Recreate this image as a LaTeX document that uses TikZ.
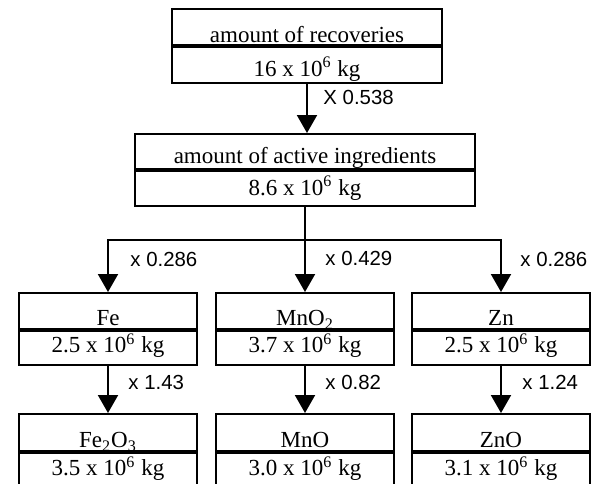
\documentclass[tikz,border=0pt]{standalone}
\usepackage{fontspec}
\setmainfont{Liberation Serif}
\newfontfamily\factorfont{Liberation Sans}
\usetikzlibrary{arrows.meta,positioning}

\begin{document}
\begin{tikzpicture}[x=0.5pt, y=-0.5pt,
    box/.style={draw, line width=0.9pt, inner sep=0pt, font=\fontsize{11.5}{13}\selectfont},
    elemhead/.style={box, minimum width=89pt, text height=16.5pt, text depth=1.5pt},
    elemval/.style={box, minimum width=89pt, text height=11pt, text depth=6pt},
    flow/.style={line width=1pt, -{Triangle[width=10pt,length=9pt]}},
    factor/.style={anchor=west, inner sep=0pt, font=\factorfont\fontsize{10.2}{12}\selectfont}]

    \clip (0,0) rectangle (599,483);

    % total
    \node[box, anchor=north, minimum width=135pt, text height=17pt, text depth=1pt] (rec) at (307,8) {amount of recoveries};
    \node[box, below=0pt of rec, minimum width=135pt, text height=15pt, text depth=3pt] (recv) {16 x 10\textsuperscript{6} kg};

    \node[box, anchor=north, minimum width=170pt, text height=15pt, text depth=2.5pt] (act) at (305,133) {amount of active ingredients};
    \node[box, below=0pt of act, minimum width=170pt, text height=12.5pt, text depth=5pt] (actv) {8.6 x 10\textsuperscript{6} kg};

    % metals
    \node[elemhead, anchor=north] (fe) at (108,292) {Fe};
    \node[elemval, below=0pt of fe] (fev) {2.5 x 10\textsuperscript{6} kg};
    \node[elemhead, anchor=north] (mn) at (305,292) {MnO\textsubscript{2}};
    \node[elemval, below=0pt of mn] (mnv) {3.7 x 10\textsuperscript{6} kg};
    \node[elemhead, anchor=north] (zn) at (501,292) {Zn};
    \node[elemval, below=0pt of zn] (znv) {2.5 x 10\textsuperscript{6} kg};

    % oxides
    \node[elemhead, anchor=north, text height=17pt] (feo) at (108,413) {Fe\textsubscript{2}O\textsubscript{3}};
    \node[elemval, below=0pt of feo, text height=11.5pt] (feov) {3.5 x 10\textsuperscript{6} kg};
    \node[elemhead, anchor=north, text height=17pt] (mno) at (305,413) {MnO};
    \node[elemval, below=0pt of mno, text height=11.5pt] (mnov) {3.0 x 10\textsuperscript{6} kg};
    \node[elemhead, anchor=north, text height=17pt] (zno) at (501,413) {ZnO};
    \node[elemval, below=0pt of zno, text height=11.5pt] (znov) {3.1 x 10\textsuperscript{6} kg};

    \draw[flow] (recv.south) -- (act.north -| recv.south);
    \node[factor] (f0) at (323,97) {X 0.538};

    \coordinate (split) at (305,240);
    \draw[line width=1pt] (actv.south) -- (split);
    \draw[flow] (split) -| (fe.north);
    \draw[flow] (split) -- (mn.north);
    \draw[flow] (split) -| (zn.north);
    \node[factor] (f1) at (130,259) {x 0.286};
    \node[factor] (f2) at (325,258) {x 0.429};
    \node[factor] (f3) at (520,259) {x 0.286};

    \draw[flow] (fev.south) -- (feo.north);
    \draw[flow] (mnv.south) -- (mno.north);
    \draw[flow] (znv.south) -- (zno.north);
    \node[factor] (f4) at (128,382) {x 1.43};
    \node[factor] (f5) at (325,382) {x 0.82};
    \node[factor] (f6) at (522,382) {x 1.24};

\end{tikzpicture}
\end{document}
